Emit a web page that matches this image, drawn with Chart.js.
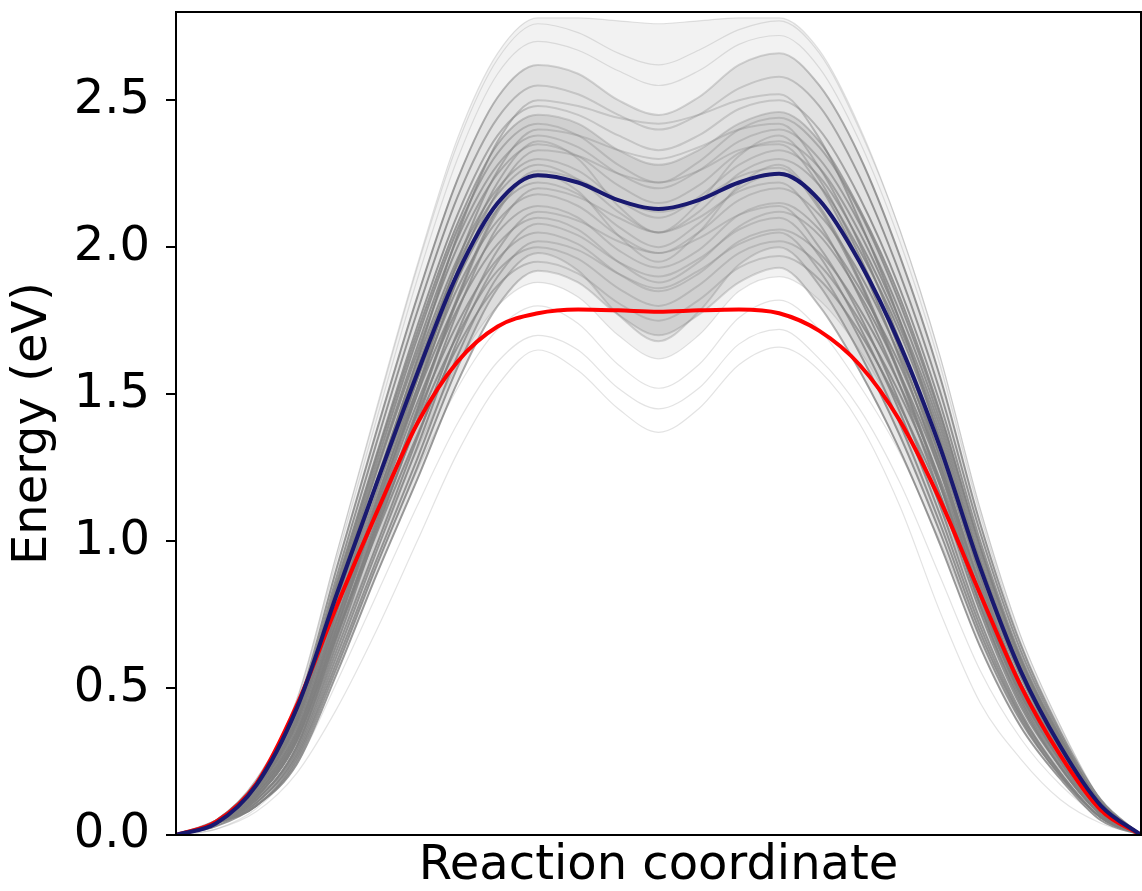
<!DOCTYPE html>
<html>
<head>
<meta charset="utf-8">
<title>Reaction energy profile</title>
<script src="https://cdn.jsdelivr.net/npm/chart.js@4"></script>
<style>
  html, body { margin: 0; padding: 0; background: #fff; }
  #chart { display: block; }
</style>
</head>
<body>
<canvas id="chart" width="1142" height="891"></canvas>
<script>
// images along the reaction path (evenly spaced)
const images = [0, 1, 2, 3, 4, 5, 6, 7, 8, 9, 10, 11, 12, 13, 14, 15, 16, 17, 18, 19, 20, 21, 22, 23, 24];

// highlighted profiles
const meanProfile = [0, 0.04, 0.17, 0.43, 0.82, 1.20, 1.57, 1.91, 2.15, 2.245, 2.22, 2.16, 2.13, 2.16, 2.22, 2.25, 2.16, 1.95, 1.67, 1.32, 0.91, 0.56, 0.30, 0.10, 0];
const refProfile = [0, 0.045, 0.175, 0.44, 0.78, 1.10, 1.40, 1.61, 1.73, 1.775, 1.788, 1.785, 1.78, 1.785, 1.788, 1.775, 1.715, 1.60, 1.41, 1.14, 0.82, 0.51, 0.27, 0.085, 0];

// sampled ensemble of profiles (grey)
const ensembleCurves = [
  [0, 0.05, 0.19, 0.46, 0.96, 1.46, 1.94, 2.37, 2.66, 2.78, 2.78, 2.77, 2.76, 2.77, 2.78, 2.78, 2.67, 2.41, 2.06, 1.63, 1.11, 0.68, 0.37, 0.12, 0],
  [0, 0.05, 0.19, 0.46, 0.96, 1.45, 1.93, 2.35, 2.64, 2.76, 2.73, 2.66, 2.62, 2.67, 2.74, 2.77, 2.66, 2.40, 2.06, 1.63, 1.11, 0.68, 0.37, 0.12, 0],
  [0, 0.05, 0.19, 0.45, 0.94, 1.42, 1.89, 2.30, 2.59, 2.70, 2.67, 2.60, 2.55, 2.60, 2.69, 2.72, 2.61, 2.36, 2.02, 1.60, 1.09, 0.66, 0.36, 0.12, 0],
  [0, 0.05, 0.18, 0.43, 0.91, 1.38, 1.83, 2.23, 2.51, 2.62, 2.59, 2.50, 2.45, 2.51, 2.62, 2.66, 2.55, 2.31, 1.97, 1.56, 1.06, 0.65, 0.35, 0.12, 0],
  [0, 0.05, 0.18, 0.42, 0.88, 1.34, 1.78, 2.17, 2.44, 2.55, 2.52, 2.45, 2.40, 2.45, 2.54, 2.58, 2.48, 2.24, 1.91, 1.51, 1.03, 0.63, 0.34, 0.11, 0],
  [0, 0.04, 0.17, 0.41, 0.86, 1.30, 1.73, 2.11, 2.38, 2.48, 2.45, 2.38, 2.33, 2.38, 2.47, 2.50, 2.40, 2.17, 1.86, 1.47, 1.00, 0.61, 0.33, 0.11, 0],
  [0, 0.04, 0.17, 0.40, 0.85, 1.29, 1.71, 2.08, 2.35, 2.45, 2.42, 2.33, 2.28, 2.33, 2.42, 2.46, 2.36, 2.13, 1.83, 1.44, 0.98, 0.60, 0.33, 0.11, 0],
  [0, 0.04, 0.17, 0.40, 0.84, 1.27, 1.69, 2.06, 2.32, 2.42, 2.38, 2.28, 2.22, 2.29, 2.40, 2.44, 2.34, 2.12, 1.81, 1.43, 0.98, 0.60, 0.32, 0.11, 0],
  [0, 0.04, 0.16, 0.39, 0.83, 1.25, 1.66, 2.03, 2.28, 2.38, 2.34, 2.25, 2.20, 2.26, 2.36, 2.40, 2.30, 2.08, 1.78, 1.41, 0.96, 0.59, 0.32, 0.11, 0],
  [0, 0.04, 0.16, 0.39, 0.82, 1.24, 1.64, 2.00, 2.25, 2.35, 2.31, 2.21, 2.15, 2.21, 2.32, 2.36, 2.27, 2.05, 1.75, 1.39, 0.94, 0.58, 0.31, 0.10, 0],
  [0, 0.04, 0.16, 0.38, 0.80, 1.21, 1.61, 1.96, 2.20, 2.30, 2.26, 2.16, 2.10, 2.17, 2.28, 2.33, 2.24, 2.02, 1.73, 1.37, 0.93, 0.57, 0.31, 0.10, 0],
  [0, 0.04, 0.16, 0.38, 0.79, 1.20, 1.59, 1.94, 2.18, 2.28, 2.23, 2.12, 2.05, 2.12, 2.25, 2.30, 2.21, 1.99, 1.71, 1.35, 0.92, 0.56, 0.31, 0.10, 0],
  [0, 0.04, 0.15, 0.37, 0.77, 1.17, 1.55, 1.89, 2.13, 2.22, 2.18, 2.07, 2.00, 2.08, 2.20, 2.25, 2.16, 1.95, 1.67, 1.32, 0.90, 0.55, 0.30, 0.10, 0],
  [0, 0.04, 0.15, 0.36, 0.76, 1.15, 1.52, 1.86, 2.09, 2.18, 2.14, 2.04, 1.98, 2.05, 2.16, 2.20, 2.11, 1.91, 1.63, 1.29, 0.88, 0.54, 0.29, 0.10, 0],
  [0, 0.04, 0.15, 0.35, 0.74, 1.13, 1.50, 1.82, 2.05, 2.14, 2.10, 1.99, 1.93, 1.99, 2.11, 2.15, 2.06, 1.86, 1.60, 1.26, 0.86, 0.52, 0.29, 0.09, 0],
  [0, 0.04, 0.14, 0.35, 0.73, 1.10, 1.47, 1.79, 2.01, 2.10, 2.06, 1.95, 1.88, 1.95, 2.07, 2.12, 2.04, 1.84, 1.57, 1.24, 0.85, 0.52, 0.28, 0.09, 0],
  [0, 0.04, 0.14, 0.34, 0.71, 1.08, 1.43, 1.74, 1.96, 2.05, 2.01, 1.91, 1.85, 1.91, 2.02, 2.06, 1.98, 1.79, 1.53, 1.21, 0.82, 0.50, 0.27, 0.09, 0],
  [0, 0.04, 0.14, 0.33, 0.69, 1.05, 1.40, 1.70, 1.92, 2.00, 1.96, 1.86, 1.80, 1.87, 1.98, 2.02, 1.94, 1.75, 1.50, 1.19, 0.81, 0.49, 0.27, 0.09, 0],
  [0, 0.04, 0.13, 0.32, 0.68, 1.03, 1.36, 1.66, 1.87, 1.95, 1.91, 1.81, 1.75, 1.82, 1.93, 1.97, 1.89, 1.71, 1.46, 1.16, 0.79, 0.48, 0.26, 0.09, 0],
  [0, 0.03, 0.13, 0.31, 0.65, 0.99, 1.31, 1.60, 1.80, 1.88, 1.83, 1.70, 1.62, 1.70, 1.85, 1.90, 1.82, 1.65, 1.41, 1.12, 0.76, 0.46, 0.25, 0.08, 0],
  [0, 0.03, 0.11, 0.27, 0.58, 0.92, 1.24, 1.52, 1.72, 1.80, 1.74, 1.60, 1.52, 1.60, 1.76, 1.82, 1.72, 1.53, 1.30, 1.00, 0.68, 0.41, 0.22, 0.07, 0],
  [0, 0.02, 0.09, 0.24, 0.52, 0.82, 1.12, 1.40, 1.61, 1.70, 1.65, 1.52, 1.45, 1.52, 1.67, 1.72, 1.62, 1.45, 1.20, 0.88, 0.56, 0.33, 0.17, 0.06, 0],
  [0, 0.02, 0.08, 0.21, 0.43, 0.70, 1.00, 1.30, 1.53, 1.65, 1.58, 1.45, 1.37, 1.45, 1.60, 1.66, 1.58, 1.40, 1.12, 0.76, 0.45, 0.26, 0.12, 0.04, 0],
  [0, 0.05, 0.14, 0.34, 0.76, 1.20, 1.62, 2.04, 2.36, 2.50, 2.48, 2.44, 2.42, 2.45, 2.50, 2.52, 2.37, 2.09, 1.75, 1.34, 0.88, 0.51, 0.27, 0.08, 0],
  [0, 0.04, 0.13, 0.33, 0.73, 1.14, 1.55, 1.95, 2.26, 2.40, 2.38, 2.33, 2.30, 2.34, 2.40, 2.42, 2.27, 2.01, 1.68, 1.28, 0.84, 0.49, 0.25, 0.08, 0],
  [0, 0.04, 0.13, 0.32, 0.70, 1.11, 1.50, 1.89, 2.19, 2.33, 2.31, 2.25, 2.22, 2.26, 2.33, 2.35, 2.21, 1.95, 1.62, 1.24, 0.81, 0.47, 0.24, 0.07, 0],
  [0, 0.04, 0.12, 0.30, 0.68, 1.07, 1.45, 1.83, 2.13, 2.26, 2.23, 2.16, 2.12, 2.16, 2.24, 2.27, 2.13, 1.88, 1.56, 1.19, 0.78, 0.45, 0.23, 0.07, 0],
  [0, 0.04, 0.12, 0.29, 0.65, 1.04, 1.41, 1.78, 2.07, 2.20, 2.17, 2.10, 2.05, 2.10, 2.19, 2.22, 2.08, 1.83, 1.53, 1.16, 0.76, 0.44, 0.23, 0.07, 0],
  [0, 0.04, 0.11, 0.28, 0.63, 0.99, 1.35, 1.71, 1.99, 2.12, 2.09, 2.02, 1.98, 2.03, 2.11, 2.14, 2.00, 1.77, 1.47, 1.12, 0.73, 0.42, 0.21, 0.06, 0],
  [0, 0.04, 0.11, 0.27, 0.61, 0.97, 1.32, 1.68, 1.95, 2.08, 2.04, 1.95, 1.90, 1.96, 2.06, 2.10, 1.97, 1.73, 1.44, 1.09, 0.71, 0.41, 0.21, 0.06, 0],
  [0, 0.04, 0.10, 0.26, 0.59, 0.94, 1.28, 1.63, 1.90, 2.02, 1.99, 1.91, 1.86, 1.92, 2.01, 2.05, 1.92, 1.69, 1.40, 1.06, 0.69, 0.40, 0.20, 0.06, 0],
  [0, 0.03, 0.10, 0.24, 0.55, 0.89, 1.21, 1.54, 1.80, 1.92, 1.88, 1.77, 1.70, 1.77, 1.88, 1.93, 1.80, 1.58, 1.31, 0.99, 0.64, 0.37, 0.19, 0.05, 0],
  [0, 0.04, 0.13, 0.32, 0.71, 1.12, 1.52, 1.92, 2.22, 2.36, 2.30, 2.14, 2.05, 2.15, 2.31, 2.38, 2.23, 1.97, 1.65, 1.26, 0.82, 0.48, 0.25, 0.07, 0],
  [0, 0.04, 0.12, 0.30, 0.67, 1.06, 1.44, 1.82, 2.12, 2.25, 2.19, 2.04, 1.95, 2.05, 2.21, 2.28, 2.14, 1.89, 1.57, 1.20, 0.78, 0.46, 0.23, 0.07, 0],
  [0, 0.04, 0.10, 0.25, 0.57, 0.92, 1.25, 1.59, 1.86, 1.98, 1.92, 1.77, 1.68, 1.78, 1.94, 2.00, 1.87, 1.64, 1.36, 1.03, 0.67, 0.39, 0.20, 0.06, 0]
];

// ensemble members that sit outside the dense core (drawn faint)
const outlierCurves = [0, 1, 2, 19, 20, 21, 22];

// shaded density bands between ensemble members: [upper, lower, alpha]
const densityBands = [[0, 19, 0.10], [3, 34, 0.14], [6, 31, 0.18]];

const font = { family: 'DejaVu Sans', size: 48 };
const firstGrey = 2; // dataset index of the first ensemble curve

// the ensemble lines pile up on the two flanks of the barrier, so the core
// members are stroked darker there than across the plateau
let flankGradient = null;
function coreStroke(context) {
  const { ctx, chartArea } = context.chart;
  if (!chartArea) return 'rgba(128, 128, 128, 0.3)';
  if (!flankGradient) {
    flankGradient = ctx.createLinearGradient(chartArea.left, 0, chartArea.right, 0);
    flankGradient.addColorStop(0, 'rgba(128, 128, 128, 0.8)');
    flankGradient.addColorStop(0.28, 'rgba(128, 128, 128, 0.8)');
    flankGradient.addColorStop(0.38, 'rgba(128, 128, 128, 0.3)');
    flankGradient.addColorStop(0.63, 'rgba(128, 128, 128, 0.3)');
    flankGradient.addColorStop(0.72, 'rgba(128, 128, 128, 0.8)');
    flankGradient.addColorStop(1, 'rgba(128, 128, 128, 0.8)');
  }
  return flankGradient;
}

const greySets = ensembleCurves.map((curve, i) => {
  const band = densityBands.find(b => b[0] === i);
  const faint = outlierCurves.includes(i);
  return {
    data: curve,
    borderColor: faint ? 'rgba(128, 128, 128, 0.22)' : coreStroke,
    borderWidth: faint ? 1.2 : 2,
    fill: band ? firstGrey + band[1] : false,
    backgroundColor: band ? `rgba(128, 128, 128, ${band[2]})` : 'transparent'
  };
});

const frame = {
  id: 'frame',
  afterDraw(chart) {
    const { ctx, chartArea: a } = chart;
    ctx.save();
    ctx.strokeStyle = '#000';
    ctx.lineWidth = 2;
    ctx.strokeRect(a.left, a.top, a.right - a.left, a.bottom - a.top);
    ctx.restore();
  }
};

new Chart(document.getElementById('chart'), {
  type: 'line',
  data: {
    labels: images,
    datasets: [
      { data: meanProfile, borderColor: '#191970', borderWidth: 4, fill: false },
      { data: refProfile, borderColor: '#ff0000', borderWidth: 4, fill: false },
      ...greySets
    ]
  },
  options: {
    responsive: false,
    animation: false,
    layout: { padding: { top: 12, right: 1, left: 0, bottom: 0 } },
    elements: {
      point: { radius: 0 },
      line: { cubicInterpolationMode: 'monotone' }
    },
    plugins: {
      legend: { display: false },
      tooltip: { enabled: false },
      filler: { drawTime: 'beforeDatasetsDraw' }
    },
    scales: {
      x: {
        type: 'category',
        offset: false,
        grid: { display: false },
        border: { display: false },
        ticks: { display: false },
        title: {
          display: true,
          text: 'Reaction coordinate',
          color: '#000',
          font: { ...font, lineHeight: 1 },
          padding: 0
        },
        afterFit(scale) {
          scale.height = 56;
          scale.paddingLeft = 0;
          scale.paddingRight = 0;
        }
      },
      y: {
        min: 0,
        max: 2.8,
        grid: { drawOnChartArea: false, color: '#000', lineWidth: 2, tickLength: 10 },
        border: { display: false },
        ticks: {
          stepSize: 0.5,
          includeBounds: false,
          padding: 16,
          color: '#000',
          font: font,
          callback: (v) => v.toFixed(1)
        },
        title: {
          display: true,
          text: 'Energy (eV)',
          color: '#000',
          font: { ...font, lineHeight: 1 },
          padding: { top: 10, bottom: 0 }
        },
        afterFit(scale) {
          scale.width = 176;
          scale.paddingTop = 0;
          scale.paddingBottom = 0;
        }
      }
    }
  },
  plugins: [frame]
});
</script>
</body>
</html>
